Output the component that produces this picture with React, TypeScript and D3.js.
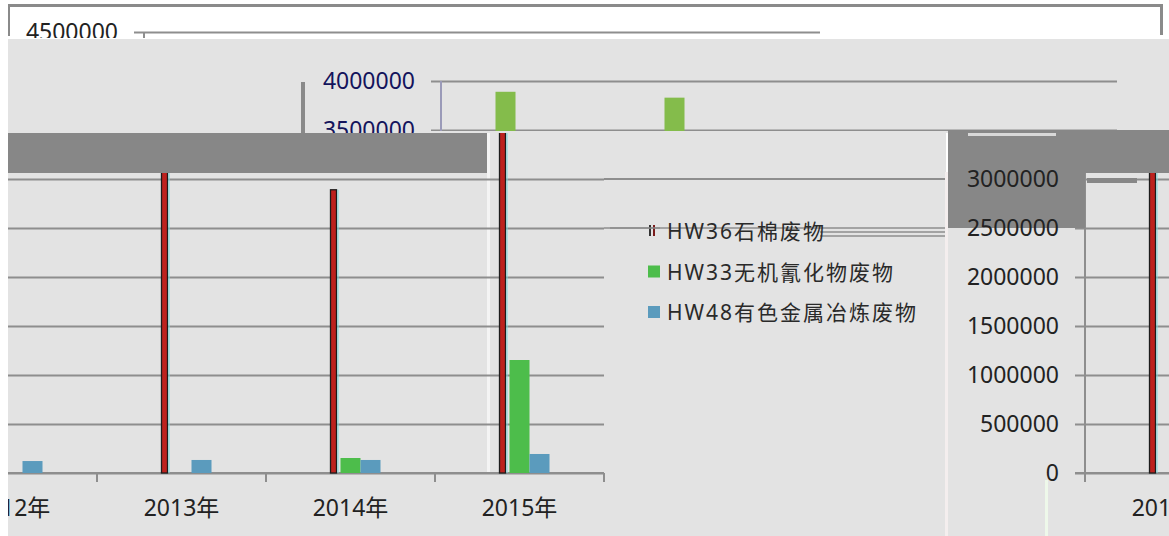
import React, { useEffect, useRef } from "react";
import * as d3 from "d3";

// chart values
const categories = ["2012年", "2013年", "2014年", "2015年"];
const seriesNames = ["HW36石棉废物", "HW33无机氰化物废物", "HW48有色金属冶炼废物"];
const hw36 = [3890000, 3830000, 2890000, 3480000];
const hw33 = [0, 0, 153000, 1153000];
const hw48 = [122000, 133000, 133000, 194000];
const yTicks = [0, 500000, 1000000, 1500000, 2000000, 2500000, 3000000, 3500000, 4000000, 4500000];

const seriesColors = ["#bd221e", "#4dbd4b", "#5b9bbd"];
const font = "'Noto Sans', 'Noto Sans CJK SC', sans-serif";
const W = 1169, H = 536;
const PLOT_W = 676;

const y = d3.scaleLinear().domain([0, 4500000]).range([473, 32]);

// draws one copy of the clustered bar chart with its plot area starting at plotX
const drawCopy = (g, plotX, opt) => {
    const x0 = d3.scaleBand().domain(categories).range([plotX, plotX + PLOT_W]);
    const x1 = d3.scaleBand().domain(["0", "1", "2"]).range([0, 60]);
    const bw = x0.bandwidth();
    const rows = categories.map((c, i) => ({ c, v: [hw36[i], hw33[i], hw48[i]] }));
    const ticks = opt.ticks || yTicks;

    if (opt.body) {
        const grid = g.append("g")
            .attr("transform", `translate(${plotX + PLOT_W},0)`)
            .call(d3.axisLeft(y).tickValues(ticks).tickSize(PLOT_W + 10).tickFormat(() => ""));
        grid.select(".domain").remove();
        grid.selectAll("line").attr("stroke", "#8e8e8e").attr("stroke-width", 2);

        g.append("line")
            .attr("x1", plotX).attr("x2", plotX)
            .attr("y1", opt.axisTop || y(3500000)).attr("y2", 482)
            .attr("stroke", opt.axisColor || "#8e8e8e").attr("stroke-width", 2);

        // x axis baseline + category boundary ticks
        g.append("line")
            .attr("x1", plotX - 10).attr("x2", plotX + PLOT_W)
            .attr("y1", y(0)).attr("y2", y(0))
            .attr("stroke", "#8e8e8e").attr("stroke-width", 2);
        const bounds = categories.map((c) => x0(c)).concat([plotX + PLOT_W]);
        g.selectAll(".xtick").data(bounds).enter().append("line")
            .attr("x1", (d) => d).attr("x2", (d) => d)
            .attr("y1", y(0)).attr("y2", y(0) + 9)
            .attr("stroke", "#8e8e8e").attr("stroke-width", 2);

        const cat = g.selectAll(".cat").data(rows).enter().append("g")
            .attr("transform", (d) => `translate(${x0(d.c) + bw / 2 - 30},0)`);
        cat.selectAll("rect")
            .data((d) => d.v.map((v, i) => ({ v, i })))
            .enter().append("rect")
            .attr("x", (d) => {
                if (d.i === 0 && opt.thin36) return x1("0") + 10;
                return x1(String(d.i));
            })
            .attr("width", (d) => (d.i === 0 && opt.thin36 ? 6 : x1.bandwidth()))
            .attr("y", (d) => y(d.v))
            .attr("height", (d) => y(0) - y(d.v))
            .attr("fill", (d) => (d.i === 0 && opt.color36 ? opt.color36 : seriesColors[d.i]))
            .attr("stroke", (d) => (d.i === 0 && opt.thin36 ? "#1c1c1c" : "none"))
            .attr("stroke-width", 1.3);

        if (opt.thin36) {
            cat.append("line")
                .attr("x1", x1("0") + 17.5).attr("x2", x1("0") + 17.5)
                .attr("y1", (d) => y(d.v[0])).attr("y2", y(0))
                .attr("stroke", "#7fd8dc").attr("stroke-width", 1);
        }
    }

    if (opt.xlabels) {
        g.selectAll(".xlab").data(opt.xlabels).enter().append("text")
            .attr("x", (d) => x0(d) + bw / 2)
            .attr("y", 507)
            .attr("text-anchor", "middle")
            .attr("dominant-baseline", "central")
            .attr("font-family", font)
            .attr("font-size", 23)
            .attr("fill", "#222")
            .text((d) => d);
    }

    if (opt.labels) {
        const ax = g.append("g")
            .attr("transform", `translate(${plotX + PLOT_W},0)`)
            .call(d3.axisLeft(y).tickValues(opt.labels).tickSize(PLOT_W + 10).tickPadding(16).tickFormat(d3.format("d")));
        ax.select(".domain").remove();
        ax.selectAll("line").remove();
        ax.attr("font-family", font).attr("font-size", 23);
        ax.selectAll("text").attr("fill", opt.labelColor || "#222");
    }
};

const App = () => {
    const ref = useRef();

    useEffect(() => {
        const svg = d3.select(ref.current);
        svg.selectAll("*").remove();
        const defs = svg.append("defs");
        const clip = (id, x, yy, w, h) => {
            defs.append("clipPath").attr("id", id)
                .append("rect").attr("x", x).attr("y", yy).attr("width", w).attr("height", h);
            return svg.append("g").attr("clip-path", `url(#${id})`);
        };

        svg.append("rect").attr("width", W).attr("height", H).attr("fill", "#fff");

        // top white strip (chart copy shifted right)
        const top = clip("cTop", 8, 5, 1154, 33);
        drawCopy(top, 144, { body: true, ticks: [4500000], axisTop: 32, labels: [4500000] });
        svg.append("rect").attr("x", 8).attr("y", 4).attr("width", 1155).attr("height", 3).attr("fill", "#8a8a8a");
        svg.append("rect").attr("x", 8).attr("y", 4).attr("width", 2).attr("height", 32).attr("fill", "#8a8a8a");
        svg.append("rect").attr("x", 1160).attr("y", 4).attr("width", 3).attr("height", 31).attr("fill", "#8a8a8a");

        // upper gray strip
        const up = clip("cUp", 8, 39, 1161, 94);
        up.append("rect").attr("x", 0).attr("y", 0).attr("width", W).attr("height", H).attr("fill", "#e3e3e3");
        drawCopy(up, 441, {
            body: true, ticks: [3500000, 4000000], axisTop: y(4000000),
            labels: [3500000, 4000000], color36: "#84bc4b", labelColor: "#14145c", axisColor: "#9a9ab8",
        });
        up.append("rect").attr("x", 301).attr("y", 82).attr("width", 4).attr("height", 52).attr("fill", "#8a8a8a");
        up.append("rect").attr("x", 430).attr("y", 131).attr("width", 700).attr("height", 2).attr("fill", "#e3e3e3");

        // main chart
        const main = clip("cMain", 8, 133, 938, 403);
        main.append("rect").attr("x", 0).attr("y", 0).attr("width", W).attr("height", H).attr("fill", "#e3e3e3");
        main.append("line").attr("x1", 604).attr("x2", 946).attr("y1", y(3000000)).attr("y2", y(3000000))
            .attr("stroke", "#8e8e8e").attr("stroke-width", 2);
        [y(2500000), y(2500000) + 4, y(2500000) + 8].forEach((v, i) => {
            main.append("line").attr("x1", i === 0 ? 604 : 820).attr("x2", 946).attr("y1", v).attr("y2", v)
                .attr("stroke", "#8e8e8e").attr("stroke-width", 1.5);
        });
        main.append("rect").attr("x", 487).attr("y", 133).attr("width", 3).attr("height", 340).attr("fill", "#f4f4f4");
        drawCopy(main, -72, { body: true, thin36: true, ticks: yTicks.slice(0, 7), xlabels: categories });

        // legend
        const leg = main.append("g").attr("transform", "translate(648,0)");
        seriesNames.forEach((name, i) => {
            const cy = 231 + i * 40.5;
            if (i === 0) {
                leg.append("rect").attr("x", 1).attr("y", cy - 6).attr("width", 2).attr("height", 11).attr("fill", "#333");
                leg.append("rect").attr("x", 5).attr("y", cy - 6).attr("width", 2).attr("height", 11).attr("fill", "#7a1c1c");
            } else {
                leg.append("rect").attr("x", 0).attr("y", cy - 6).attr("width", 12).attr("height", 12)
                    .attr("fill", seriesColors[i]);
            }
            leg.append("text")
                .attr("x", 19).attr("y", cy)
                .attr("dominant-baseline", "central")
                .attr("font-family", font)
                .attr("font-size", 21)
                .attr("letter-spacing", 2)
                .attr("fill", "#2a2a2a")
                .text(name);
        });
        main.append("line").attr("x1", 610).attr("x2", 660).attr("y1", y(2500000)).attr("y2", y(2500000))
            .attr("stroke", "#8e8e8e").attr("stroke-width", 1.5);

        // dark band over the main chart
        svg.append("rect").attr("x", 8).attr("y", 133).attr("width", 479).attr("height", 40).attr("fill", "#878787");
        svg.append("rect").attr("x", 945).attr("y", 172).attr("width", 3).attr("height", 364).attr("fill", "#f4eeee");

        // right panel (another shifted copy)
        const right = clip("cRight", 948, 130, 221, 406);
        right.append("rect").attr("x", 0).attr("y", 0).attr("width", W).attr("height", H).attr("fill", "#e3e3e3");
        drawCopy(right, 1085, { body: true, thin36: true, ticks: yTicks.slice(0, 7) });
        right.append("rect").attr("x", 948).attr("y", 130).attr("width", 137).attr("height", 98).attr("fill", "#878787");
        right.append("rect").attr("x", 1085).attr("y", 130).attr("width", 84).attr("height", 43).attr("fill", "#878787");
        right.append("rect").attr("x", 1087).attr("y", 178).attr("width", 50).attr("height", 5).attr("fill", "#878787");
        right.append("rect").attr("x", 1045).attr("y", 480).attr("width", 3).attr("height", 56).attr("fill", "#eef8ea");
        right.append("rect").attr("x", 968).attr("y", 133).attr("width", 88).attr("height", 3).attr("fill", "#d8d8d8");
        drawCopy(right, 1085, { labels: yTicks.slice(0, 7), xlabels: [categories[0]] });
    }, []);

    return (
        <svg ref={ref} width={W} height={H} style={{ position: "absolute", left: 0, top: 0 }}></svg>
    );
};

export default App;
